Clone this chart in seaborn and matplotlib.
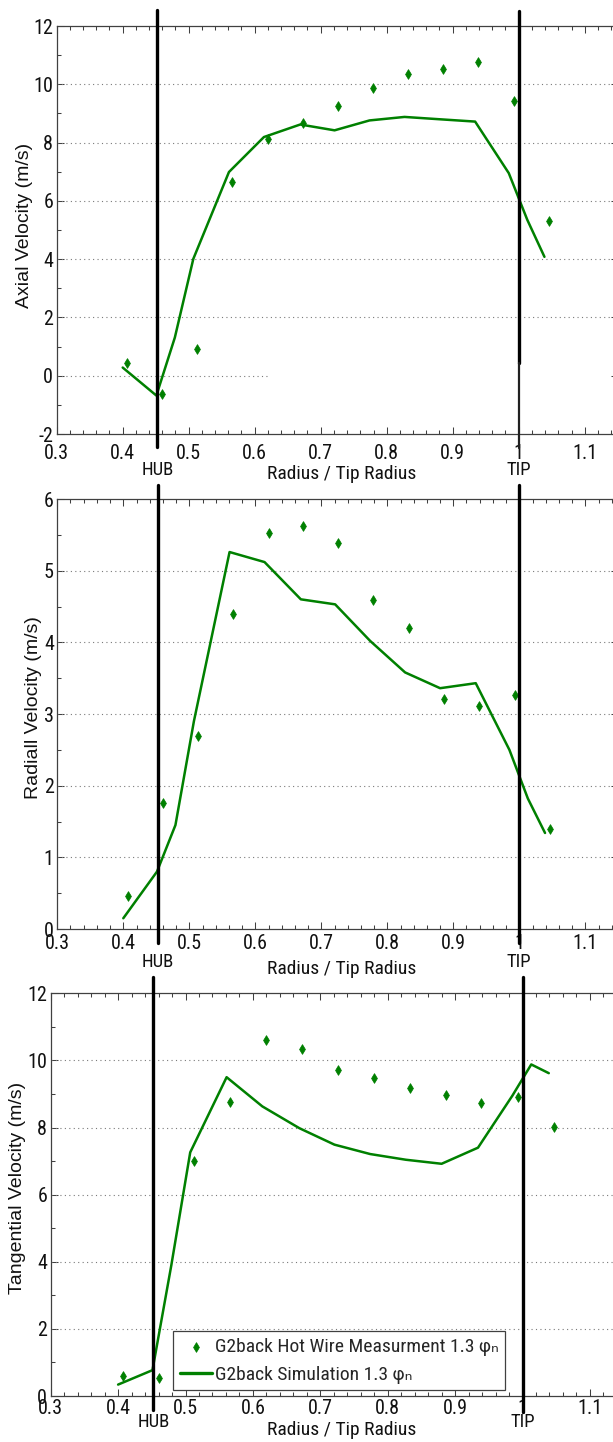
import matplotlib
matplotlib.use("Agg")
import matplotlib.pyplot as plt
import matplotlib.transforms as mtransforms
from matplotlib import font_manager
from matplotlib.font_manager import FontProperties
from matplotlib.ticker import MultipleLocator
import seaborn as sns

# ---------------------------------------------------------------- data
# normalised radius of the hot-wire traverse stations
R_MEAS = [0.407, 0.460, 0.513, 0.566, 0.620, 0.673, 0.726, 0.779,
          0.833, 0.886, 0.939, 0.993, 1.046]
AXIAL_MEAS = [0.45, -0.62, 0.90, 6.65, 8.12, 8.68, 9.25, 9.88,
              10.35, 10.52, 10.75, 9.43, 5.32]
RADIAL_MEAS = [0.46, 1.76, 2.70, 4.40, 5.53, 5.62, 5.38, 4.59,
               4.20, 3.21, 3.11, 3.27, 1.39]
TANG_MEAS = [0.60, 0.54, 7.00, 8.77, 10.62, 10.34, 9.71, 9.48,
             9.17, 8.97, 8.74, 8.92, 8.03]

# normalised radius of the CFD extraction points
R_SIM = [0.400, 0.451, 0.479, 0.507, 0.561, 0.614, 0.669, 0.721,
         0.774, 0.827, 0.880, 0.934, 0.985, 1.013, 1.039]
AXIAL_SIM = [0.28, -0.68, 1.31, 4.01, 6.99, 8.19, 8.62, 8.42,
             8.76, 8.88, 8.80, 8.72, 6.95, 5.35, 4.08]
RADIAL_SIM = [0.15, 0.80, 1.45, 2.90, 5.26, 5.12, 4.60, 4.53,
              4.02, 3.58, 3.36, 3.43, 2.50, 1.82, 1.34]
TANG_SIM = [0.34, 0.77, 3.90, 7.26, 9.50, 8.63, 7.98, 7.49,
            7.21, 7.04, 6.92, 7.40, 8.95, 9.88, 9.62]

HUB_R = 0.4525
TIP_R = 1.0

XTICKS = [0.3, 0.4, 0.5, 0.6, 0.7, 0.8, 0.9, 1.0, 1.1]
XTICK_LABELS = ["0.3", "0.4", "0.5", "0.6", "0.7", "0.8", "0.9", "1", "1.1"]
XLABEL = "Radius / Tip Radius"
LEG_MEAS = "G2back Hot Wire Measurment 1.3 \u03c6\u2099"
LEG_SIM = "G2back Simulation 1.3 \u03c6\u2099"

# ---------------------------------------------------------------- style
sns.set_style("ticks")
names = {f.name for f in font_manager.fontManager.ttflist}
NARROW = "Liberation Sans"
for cand in ("Liberation Sans Narrow", "Arial Narrow", "Roboto Condensed",
             "Archivo Narrow"):
    if cand in names:
        NARROW = cand
        break
REGULAR = "Liberation Sans" if "Liberation Sans" in names else "DejaVu Sans"
plt.rcParams["font.family"] = [NARROW, "DejaVu Sans"]
plt.rcParams["axes.unicode_minus"] = False

GREEN = "#008000"
SPINE = "#404040"
GRID = "#7a7a7a"

W, H = 613, 1442
XMIN, XMAX = 0.3, 1.15
fig = plt.figure(figsize=(W / 100, H / 100), dpi=100, facecolor="white")

panels = [
    dict(ylabel="Axial Velocity (m/s)", meas=AXIAL_MEAS, sim=AXIAL_SIM,
         ylim=(-2, 12), step=2, minor=1,
         box=(56.7, 26.0, 434.0, 660.0), pad=7.0,
         hub=(10, 447), tip=(11, 363, 448), txt_top=461, xl_top=465,
         ylab=(33.0, 225.0), zero_grid_end=0.62, legend=False),
    dict(ylabel="Radiall Velocity (m/s)", meas=RADIAL_MEAS, sim=RADIAL_SIM,
         ylim=(0, 6), step=1, minor=0.5,
         box=(57.3, 499.0, 929.0, 660.0), pad=3.5,
         hub=(485, 943), tip=(485, None, 943), txt_top=953, xl_top=960,
         ylab=(42.0, 707.5), zero_grid_end=None, legend=False),
    dict(ylabel="Tangential Velocity (m/s)", meas=TANG_MEAS, sim=TANG_SIM,
         ylim=(0, 12), step=2, minor=1,
         box=(50.7, 993.3, 1396.0, 674.0), pad=2.0,
         hub=(977, 1410), tip=(977, None, 1412), txt_top=1413, xl_top=1421,
         ylab=(26.5, 1187.5), zero_grid_end=None, legend=True),
]

for p in panels:
    left, top, bottom, ppu = p["box"]
    width = (XMAX - XMIN) * ppu
    ax = fig.add_axes([left / W, 1 - bottom / H, width / W, (bottom - top) / H])
    ax.set_facecolor("white")

    def fy(ypx):
        return (bottom - ypx) / (bottom - top)

    def fx(xpx):
        return (xpx - left) / width

    y0, y1 = p["ylim"]
    ax.set_xlim(XMIN, XMAX)
    ax.set_ylim(y0, y1)

    # dotted horizontal grid at interior major ticks
    v = y0 + p["step"]
    while v < y1 - 1e-9:
        xmax = 1.0
        if v == 0 and p["zero_grid_end"] is not None:
            xmax = (p["zero_grid_end"] - XMIN) / (XMAX - XMIN)
        ax.axhline(v, xmin=0, xmax=xmax, color=GRID, lw=0.8,
                   ls=(0, (1, 3)), zorder=1)
        v += p["step"]

    sns.lineplot(x=R_SIM, y=p["sim"], sort=False, estimator=None,
                 color=GREEN, linewidth=1.8, ax=ax, zorder=3,
                 label=LEG_SIM if p["legend"] else None, legend=False)
    sns.scatterplot(x=R_MEAS, y=p["meas"], marker="d", s=24, color=GREEN,
                    edgecolor=GREEN, linewidth=0.6, ax=ax, zorder=4,
                    label=LEG_MEAS if p["legend"] else None, legend=False)

    # hub and tip markers, running past the frame
    h0, h1 = p["hub"]
    ax.axvline(HUB_R, ymin=fy(h1), ymax=fy(h0), color="black", lw=2.4,
               clip_on=False, zorder=6)
    t0, tmid, t1 = p["tip"]
    if tmid is None:
        ax.axvline(TIP_R, ymin=fy(t1), ymax=fy(t0), color="black", lw=2.4,
                   clip_on=False, zorder=6)
    else:
        ax.axvline(TIP_R, ymin=fy(tmid), ymax=fy(t0), color="black", lw=2.4,
                   clip_on=False, zorder=6)
        ax.axvline(TIP_R, ymin=fy(t1), ymax=fy(tmid), color="#202020", lw=1.6,
                   clip_on=False, zorder=6)

    # axes frame and ticks
    for s in ax.spines.values():
        s.set_color(SPINE)
        s.set_linewidth(0.9)
    ax.set_xticks(XTICKS)
    ax.set_xticklabels(XTICK_LABELS)
    ax.set_yticks(list(range(y0, y1 + 1, p["step"])))
    ax.xaxis.set_minor_locator(MultipleLocator(0.02))
    ax.yaxis.set_minor_locator(MultipleLocator(p["minor"]))
    ax.tick_params(which="both", direction="in", top=True, right=True,
                   color=SPINE, width=0.75, labelsize=14.4, labelcolor="#111111")
    ax.tick_params(which="major", length=5)
    ax.tick_params(which="minor", length=3)
    ax.tick_params(axis="x", pad=p["pad"])
    ax.tick_params(axis="y", pad=2.5)

    # labels
    trans = mtransforms.blended_transform_factory(ax.transData, ax.transAxes)
    for xr, word in ((HUB_R, "HUB"), (TIP_R, "TIP")):
        ax.text(xr, fy(p["txt_top"]), word, transform=trans, ha="center",
                va="top", fontsize=13.5, color="#111111", zorder=7)
    ax.text(fx(342), fy(p["xl_top"]), XLABEL, transform=ax.transAxes,
            ha="center", va="top", fontsize=14.0, color="#111111")
    ax.set_ylabel(p["ylabel"], fontsize=14, fontfamily=REGULAR,
                  color="#111111")
    ax.yaxis.set_label_coords(fx(p["ylab"][0]), fy(p["ylab"][1]))

    if p["legend"]:
        handles, labels = ax.get_legend_handles_labels()
        order = [labels.index(LEG_MEAS), labels.index(LEG_SIM)]
        leg = ax.legend([handles[i] for i in order], [labels[i] for i in order],
                        loc="upper left", bbox_to_anchor=(fx(172.8), fy(1331)),
                        borderaxespad=0, frameon=True, fancybox=False,
                        edgecolor=SPINE, framealpha=1, handlelength=1.65,
                        handletextpad=0.15, borderpad=0.35, labelspacing=0.5,
                        scatterpoints=1,
                        prop=FontProperties(family=[NARROW, "DejaVu Sans"], size=14))
        leg.get_frame().set_linewidth(0.9)
        for lh in leg.get_lines():
            lh.set_linewidth(2.4)
        leg.set_zorder(8)

fig.savefig("out.png", dpi=100, facecolor="white")
